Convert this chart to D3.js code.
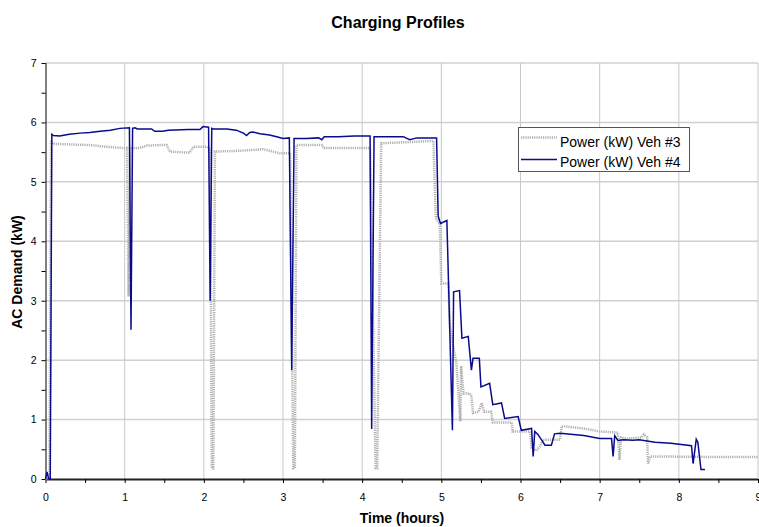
<!DOCTYPE html>
<html><head><meta charset="utf-8">
<script src="https://cdn.jsdelivr.net/npm/d3@7"></script>
<style>body{margin:0;background:#fff;} text{font-family:"Liberation Sans",Arial,sans-serif;}</style>
</head><body>
<svg id="c" width="759" height="527"></svg>
<script>
const title = "Charging Profiles";
const xLabel = "Time (hours)";
const yLabel = "AC Demand (kW)";
const seriesNames = ["Power (kW) Veh #3", "Power (kW) Veh #4"];
const xTicks = [0,1,2,3,4,5,6,7,8,9];
const yTicks = [0,1,2,3,4,5,6,7];

// Veh #3 : [hours, kW]
const veh3 = [
[0.00,0],[0.05,0],[0.07,5.70],[0.09,5.64],[0.30,5.63],[0.56,5.62],[0.77,5.59],[0.98,5.57],
[1.03,5.57],[1.05,3.07],[1.07,5.57],[1.19,5.57],[1.28,5.61],[1.45,5.62],[1.53,5.62],[1.57,5.51],
[1.82,5.49],[1.87,5.59],[2.04,5.59],[2.08,5.55],[2.10,0.18],[2.12,0.18],[2.14,5.51],[2.40,5.52],
[2.67,5.54],[2.75,5.55],[2.96,5.48],[3.09,5.48],[3.13,0.18],[3.15,0.18],[3.17,5.62],[3.49,5.62],
[3.52,5.57],[4.06,5.57],[4.10,5.57],[4.17,0.18],[4.19,0.18],[4.24,5.65],[4.60,5.67],[4.90,5.69],
[4.93,4.39],[4.98,4.30],[5.00,3.29],[5.09,3.29],[5.11,2.54],[5.19,1.95],[5.24,0.97],[5.25,1.90],
[5.28,1.44],[5.36,1.44],[5.38,1.39],[5.40,1.11],[5.47,1.13],[5.51,1.28],[5.54,1.13],[5.63,1.13],
[5.65,0.95],[5.89,0.95],[5.90,0.80],[6.12,0.80],[6.14,0.52],[6.20,0.48],[6.25,0.55],[6.28,0.66],
[6.50,0.66],[6.52,0.89],[6.80,0.85],[7.00,0.80],[7.23,0.78],[7.25,0.32],[7.27,0.70],[7.35,0.68],
[7.53,0.70],[7.56,0.75],[7.60,0.70],[7.61,0.26],[7.64,0.38],[8.50,0.37],[9.00,0.37]
];

// Veh #4 : [hours, kW]
const veh4 = [
[0.00,0],[0.02,0.12],[0.04,0],[0.06,0],[0.08,5.80],[0.10,5.78],[0.18,5.77],[0.30,5.80],
[0.44,5.82],[0.56,5.83],[0.69,5.85],[0.82,5.87],[0.94,5.90],[1.06,5.91],[1.08,2.51],[1.10,5.90],
[1.13,5.91],[1.16,5.89],[1.34,5.89],[1.38,5.85],[1.48,5.85],[1.55,5.87],[1.80,5.88],[1.95,5.88],
[1.99,5.93],[2.06,5.92],[2.08,3.00],[2.10,5.90],[2.12,5.89],[2.29,5.89],[2.41,5.87],[2.50,5.82],
[2.54,5.78],[2.58,5.83],[2.62,5.84],[2.71,5.81],[2.83,5.79],[2.92,5.76],[3.00,5.73],[3.08,5.74],
[3.11,1.83],[3.14,5.73],[3.30,5.73],[3.45,5.74],[3.49,5.71],[3.52,5.76],[3.70,5.76],[3.90,5.77],
[4.10,5.77],[4.12,0.84],[4.15,5.76],[4.52,5.76],[4.60,5.71],[4.69,5.74],[4.94,5.74],[4.96,4.42],
[4.99,4.30],[5.07,4.35],[5.14,0.82],[5.155,3.15],[5.23,3.17],[5.26,2.37],[5.34,2.40],[5.38,1.83],
[5.40,2.03],[5.48,2.03],[5.50,1.55],[5.61,1.61],[5.65,1.25],[5.76,1.28],[5.80,1.02],[5.97,1.05],
[6.01,0.82],[6.14,0.85],[6.16,0.38],[6.18,0.80],[6.22,0.75],[6.31,0.57],[6.39,0.57],[6.43,0.76],
[6.50,0.77],[6.80,0.73],[7.00,0.68],[7.15,0.68],[7.17,0.38],[7.19,0.73],[7.23,0.65],[7.30,0.66],
[7.42,0.65],[7.50,0.66],[7.70,0.62],[7.90,0.60],[8.16,0.56],[8.18,0.26],[8.22,0.67],[8.24,0.62],
[8.28,0.16],[8.33,0.16]
];

const svg = d3.select("#c");
const L = 45.5, R = 758, T = 63, B = 479;
const x = d3.scaleLinear().domain([0,9]).range([L,R]);
const y = d3.scaleLinear().domain([0,7]).range([B,T]);

// gridlines
svg.append("g").selectAll("line").data(yTicks.slice(1)).join("line")
  .attr("x1",L).attr("x2",R).attr("y1",d=>y(d)).attr("y2",d=>y(d))
  .attr("stroke","#d0d0d0").attr("stroke-width",1.5);
svg.append("g").selectAll("line").data(xTicks.slice(1)).join("line")
  .attr("y1",T).attr("y2",B).attr("x1",d=>x(d)).attr("x2",d=>x(d))
  .attr("stroke","#c8c8c8").attr("stroke-width",1);

// axes
const yAxis = d3.axisLeft(y).tickValues(yTicks).tickSize(4).tickPadding(5).tickFormat(d3.format("d"));
const gy = svg.append("g").attr("transform",`translate(${L},0)`).call(yAxis);
const yMinor = d3.axisLeft(y).tickValues(d3.range(0.5,7,1)).tickSize(4).tickFormat("");
svg.append("g").attr("transform",`translate(${L},0)`).call(yMinor).select(".domain").remove();

const xAxis = d3.axisBottom(x).tickValues(xTicks).tickSize(4).tickPadding(11).tickFormat(d3.format("d"));
const gx = svg.append("g").attr("transform",`translate(0,${B})`).call(xAxis);
const xMinor = d3.axisBottom(x).tickValues(d3.range(0.5,9,1)).tickSize(4).tickFormat("");
svg.append("g").attr("transform",`translate(0,${B})`).call(xMinor).select(".domain").remove();

svg.selectAll(".tick text").attr("font-size",10.5).attr("fill","#000").attr("font-family","Liberation Sans, Arial, sans-serif");
svg.selectAll(".tick line").attr("stroke","#000");
gy.select(".domain").attr("stroke","#000").attr("d",`M0.5,${T}V${B}`);
gx.select(".domain").attr("stroke","#222").attr("stroke-width",2).attr("d",`M${L},0.5H${R}`);

// lines
const line = d3.line().x(d=>x(d[0])).y(d=>y(d[1]));
svg.append("path").datum(veh3).attr("d",line).attr("fill","none")
  .attr("stroke","#b0b0b0").attr("stroke-width",2.5).attr("stroke-dasharray","1.2,1");
svg.append("path").datum(veh4).attr("d",line).attr("fill","none")
  .attr("stroke","#0a0a8c").attr("stroke-width",1.5);

// legend
const lg = svg.append("g");
lg.append("rect").attr("x",518.5).attr("y",127.5).attr("width",171).attr("height",44)
  .attr("fill","#fff").attr("stroke","#555").attr("stroke-width",1);
const items = [{name:seriesNames[0], s:"#b0b0b0", w:2.5, da:"1.2,1"},{name:seriesNames[1], s:"#0a0a8c", w:1.5, da:null}];
items.forEach((it,i)=>{
  const yy = 137.5 + i*22;
  lg.append("line").attr("x1",521).attr("x2",557).attr("y1",yy).attr("y2",yy)
    .attr("stroke",it.s).attr("stroke-width",it.w).attr("stroke-dasharray",it.da);
  lg.append("text").attr("x",560).attr("y",146.5 + i*20).attr("font-size",14).text(it.name);
});

// titles
svg.append("text").attr("x",398).attr("y",28).attr("text-anchor","middle")
  .attr("font-size",16).attr("font-weight","bold").text(title);
svg.append("text").attr("x",402).attr("y",523).attr("text-anchor","middle")
  .attr("font-size",14).attr("font-weight","bold").text(xLabel);
svg.append("text").attr("transform","translate(22,272) rotate(-90)").attr("text-anchor","middle")
  .attr("font-size",14).attr("font-weight","bold").text(yLabel);
</script>
</body></html>
